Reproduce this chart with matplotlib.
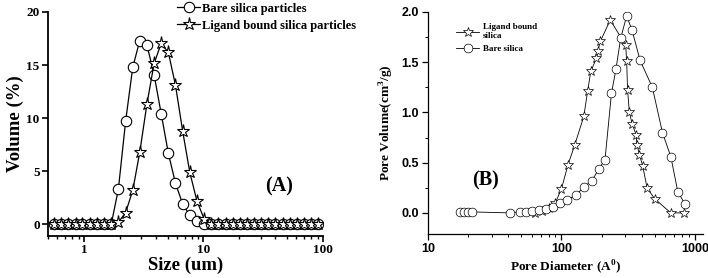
import matplotlib
matplotlib.use('Agg')
import matplotlib.pyplot as plt
from matplotlib.ticker import NullFormatter, MultipleLocator

# (A) particle size distribution
sizes = [0.56, 0.64, 0.74, 0.85, 0.97, 1.12, 1.28, 1.47, 1.69, 1.94, 2.23, 2.56, 2.93,
         3.36, 3.86, 4.43, 5.08, 5.83, 6.69, 7.68, 8.81, 10.1, 11.6, 13.3, 15.3, 17.5,
         20.1, 23.1, 26.5, 30.4, 34.9, 40.0, 45.9, 52.7, 60.5, 69.4, 79.6, 91.4]
bare_vol = [0, 0, 0, 0, 0, 0, 0, 0, 0, 3.3, 9.7, 14.8, 17.3,
            16.9, 14.1, 10.4, 6.7, 3.86, 1.93, 0.85, 0.3, 0.03, 0, 0, 0, 0,
            0, 0, 0, 0, 0, 0, 0, 0, 0, 0, 0, 0]
ligand_vol = [0, 0, 0, 0, 0, 0, 0, 0, 0, 0.2, 1.1, 3.2, 6.8,
              11.3, 15.15, 17.05, 16.2, 13.1, 8.8, 4.9, 2.2, 0.54, 0, 0, 0, 0,
              0, 0, 0, 0, 0, 0, 0, 0, 0, 0, 0, 0]

# (B) pore size distribution
bare_d = [17.5, 18.7, 19.8, 21.3, 41, 49, 54, 60, 68, 76, 87, 98, 111, 129, 148, 169,
          191, 212, 237, 256, 278, 308, 338, 388, 480, 571, 660, 745, 841]
bare_pv = [0.01, 0.01, 0.01, 0.01, 0.0, 0.01, 0.01, 0.02, 0.03, 0.04, 0.06, 0.10, 0.13,
           0.18, 0.26, 0.32, 0.44, 0.53, 1.19, 1.43, 1.74, 1.96, 1.82, 1.52, 1.25, 0.80,
           0.56, 0.21, 0.09]
lig_d = [63, 71, 80, 90, 100, 112, 126, 147, 157, 166, 183, 187, 196, 232, 303, 308,
         313, 323, 338, 362, 368, 384, 406, 438, 500, 660, 822]
lig_pv = [0.0, 0.02, 0.05, 0.10, 0.24, 0.48, 0.68, 0.96, 1.21, 1.41, 1.54, 1.61, 1.71,
          1.92, 1.67, 1.51, 1.22, 1.0, 0.89, 0.78, 0.68, 0.58, 0.47, 0.25, 0.14, 0.0, 0.0]

serif = 'Liberation Serif'
sans = 'Liberation Sans'

fig = plt.figure(figsize=(7.08, 2.78), dpi=100)

# ---- panel A
ax1 = fig.add_axes([48/708, 42/278, 275/708, 224/278])
ax1.plot(sizes, bare_vol, '-', color='k', lw=0.9, marker='o', ms=7.5,
         mfc='white', mec='k', mew=0.8, label='Bare silica particles')
ax1.plot(sizes, ligand_vol, '-', color='k', lw=0.9, marker='*', ms=9.5,
         mfc='white', mec='k', mew=0.8, label='Ligand bound silica particles')
ax1.set_xscale('log')
ax1.set_xlim(0.5, 100)
ax1.set_ylim(-1.1, 20)
ax1.yaxis.set_major_locator(MultipleLocator(5))
ax1.set_xticks([1, 10, 100])
ax1.set_xticklabels(['1', '10', '100'])
ax1.xaxis.set_minor_formatter(NullFormatter())
for s in ['top', 'right']:
    ax1.spines[s].set_visible(False)
for s in ['left', 'bottom']:
    ax1.spines[s].set_linewidth(1.3)
ax1.tick_params(direction='out', width=1.2, length=4, pad=2)
ax1.tick_params(which='minor', direction='out', width=1.0, length=2.5)
for lab in ax1.get_xticklabels() + ax1.get_yticklabels():
    lab.set_fontfamily(serif)
    lab.set_fontweight('bold')
    lab.set_fontsize(9.5)
ax1.set_xlabel('Size (um)', fontfamily=serif, fontweight='bold', fontsize=13.5, labelpad=0)
ax1.set_ylabel('Volume (%)', fontfamily=serif, fontweight='bold', fontsize=13.5, labelpad=2)
ax1.text(0.84, 0.22, '(A)', transform=ax1.transAxes, fontfamily=serif,
         fontweight='bold', fontsize=14.5, ha='center', va='center')
ax1.legend(loc='upper left', bbox_to_anchor=(0.445, 1.07), frameon=False,
           prop={'family': serif, 'weight': 'bold', 'size': 9},
           borderpad=0, handlelength=1.9, handletextpad=0.15, labelspacing=0.4)

# ---- panel B
ax2 = fig.add_axes([428/708, 44/278, 275/708, 222/278])
ax2.plot(lig_d, lig_pv, '-', color='k', lw=0.6, marker='*', ms=7,
         mfc='white', mec='k', mew=0.5, label='Ligand bound\nsilica')
ax2.plot(bare_d, bare_pv, '-', color='k', lw=0.6, marker='o', ms=6.3,
         mfc='white', mec='k', mew=0.5, label='Bare silica')
ax2.set_xscale('log')
ax2.set_xlim(10, 1150)
ax2.set_ylim(-0.21, 2.0)
ax2.yaxis.set_major_locator(MultipleLocator(0.5))
ax2.yaxis.set_minor_locator(MultipleLocator(0.25))
ax2.set_xticks([10, 100, 1000])
ax2.set_xticklabels(['10', '100', '1000'])
ax2.xaxis.set_minor_formatter(NullFormatter())
ax2.set_yticks([0.0, 0.5, 1.0, 1.5, 2.0])
ax2.set_yticklabels(['0.0', '0.5', '1.0', '1.5', '2.0'])
for s in ['top', 'right']:
    ax2.spines[s].set_visible(False)
for s in ['left', 'bottom']:
    ax2.spines[s].set_linewidth(0.9)
ax2.tick_params(direction='out', width=0.9, length=4, pad=2.5)
ax2.tick_params(which='minor', direction='out', width=0.7, length=2.5)
for lab in ax2.get_xticklabels() + ax2.get_yticklabels():
    lab.set_fontfamily(sans)
    lab.set_fontweight('bold')
    lab.set_fontsize(9)
ax2.set_xlabel('Pore Diameter (A$^\\mathregular{0}$)', fontfamily=serif,
               fontweight='bold', fontsize=9.5, labelpad=2)
ax2.set_ylabel('Pore Volume(cm$^\\mathregular{3}$/g)', fontfamily=serif,
               fontweight='bold', fontsize=9.5, labelpad=4)
ax2.text(0.21, 0.24, '(B)', transform=ax2.transAxes, fontfamily=serif,
         fontweight='bold', fontsize=14.5, ha='center', va='center')
ax2.legend(loc='upper left', bbox_to_anchor=(0.085, 0.97), frameon=False,
           prop={'family': serif, 'weight': 'bold', 'size': 6.5},
           borderpad=0, handlelength=2.6, handletextpad=0.4, labelspacing=0.5)

fig.savefig('out.png', dpi=100)
